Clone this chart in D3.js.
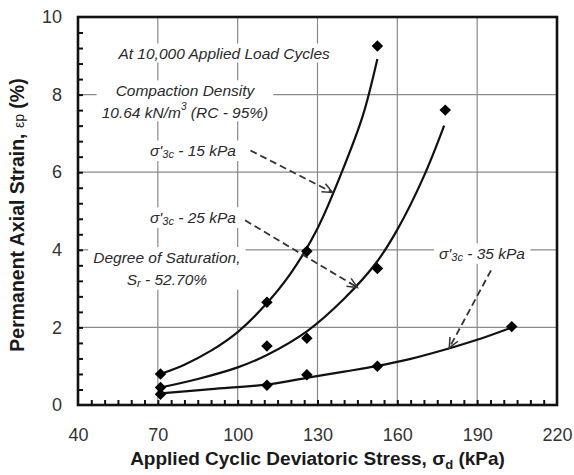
<!DOCTYPE html>
<html><head><meta charset="utf-8">
<script src="https://cdn.jsdelivr.net/npm/d3@7"></script>
<style>body{margin:0;background:#fff}svg{display:block}</style>
</head><body><svg id="c" width="574" height="475"></svg>
<script>
// ---- data ----
const xTicks = [40, 70, 100, 130, 160, 190, 220];
const yTicks = [0, 2, 4, 6, 8, 10];
const series15 = [[71, 0.80], [111, 2.65], [126, 3.96], [152.5, 9.25]];
const series25 = [[71, 0.45], [111, 1.52], [126, 1.72], [152.5, 3.52], [178, 7.60]];
const series35 = [[71, 0.28], [111, 0.51], [126, 0.78], [152.5, 1.00], [203, 2.02]];
const curve15 = [[71, 0.80], [80, 1.04], [90, 1.40], [100, 1.88], [110, 2.55], [120, 3.40], [130, 4.55], [140, 6.15], [147, 7.45], [152.5, 8.92]];
const curve25 = [[71, 0.45], [85, 0.67], [100, 0.97], [111, 1.29], [126, 1.90], [140, 2.74], [152, 3.66], [160, 4.52], [170, 5.90], [177.6, 7.20]];
const curve35 = [[71, 0.30], [90, 0.41], [111, 0.53], [126, 0.70], [140, 0.86], [152, 1.00], [165, 1.19], [180, 1.47], [190, 1.68], [203, 2.00]];
const arrows = [
  [[104.8, 6.56], [135.6, 5.48]],
  [[102.8, 4.76], [145.0, 3.03]],
  [[195.2, 3.47], [179.5, 1.47]]
];

const svg = d3.select("#c");
const x = d3.scaleLinear().domain([40, 220]).range([78, 557]);
const y = d3.scaleLinear().domain([0, 10]).range([405, 17]);
const FONT = "'Liberation Sans', Arial, sans-serif";

// grid
const grid = svg.append("g").attr("stroke", "#8a8a8a").attr("stroke-width", 1.2);
grid.selectAll("line.v").data(xTicks.slice(1, -1)).join("line")
  .attr("x1", d => x(d)).attr("x2", d => x(d)).attr("y1", y(0)).attr("y2", y(10));
grid.selectAll("line.h").data(yTicks.slice(1, -1)).join("line")
  .attr("y1", d => y(d)).attr("y2", d => y(d)).attr("x1", x(40)).attr("x2", x(220));

// minor ticks via axes
const xMinor = d3.range(45, 220, 5);
const yMinor = d3.range(0.4, 10, 0.4);
svg.append("g").attr("transform", `translate(0,${y(0)})`)
  .call(d3.axisTop(x).tickValues(xMinor).tickSize(5).tickFormat(""))
  .call(g => g.select(".domain").remove())
  .selectAll("line").attr("stroke", "#111").attr("stroke-width", 2);
svg.append("g").attr("transform", `translate(${x(40)},0)`)
  .call(d3.axisRight(y).tickValues(yMinor).tickSize(5).tickFormat(""))
  .call(g => g.select(".domain").remove())
  .selectAll("line").attr("stroke", "#111").attr("stroke-width", 2);

// tick labels
svg.append("g").attr("transform", `translate(0,${y(0)})`)
  .call(d3.axisBottom(x).tickValues(xTicks).tickSize(0).tickPadding(23))
  .call(g => g.select(".domain").remove())
  .selectAll("text").attr("font-family", FONT).attr("font-size", 18).attr("fill", "#333");
svg.append("g").attr("transform", `translate(${x(40)},0)`)
  .call(d3.axisLeft(y).tickValues(yTicks).tickSize(0).tickPadding(16))
  .call(g => g.select(".domain").remove())
  .selectAll("text").attr("font-family", FONT).attr("font-size", 18).attr("fill", "#333");

// annotation blocks
const blocks = [
  {cx: 94.9, cy: 9.07, lines: [[["At 10,000 Applied Load Cycles"]]]},
  {cx: 80.2, cy: 7.84, lines: [[["Compaction Density"]], [["10.64 kN/m"], ["3", "sup"], [" (RC - 95%)"]]]},
  {cx: 83.2, cy: 6.57, lines: [[["σ'"], ["3c", "sub"], ["  - 15 kPa"]]]},
  {cx: 83.2, cy: 4.85, lines: [[["σ'"], ["3c", "sub"], ["  - 25 kPa"]]]},
  {cx: 73.4, cy: 3.54, lines: [[["Degree of Saturation,"]], [["S"], ["r", "sub"], [" - 52.70%"]]]},
  {cx: 191.8, cy: 3.92, lines: [[["σ'"], ["3c", "sub"], ["  - 35 kPa"]]]}
];
const bgLayer = svg.append("g");
const curveLayer = svg.append("g");
const textLayer = svg.append("g");
const lh = 22;
blocks.forEach(b => {
  const g = textLayer.append("g");
  const n = b.lines.length;
  b.lines.forEach((ln, i) => {
    const t = g.append("text").attr("x", x(b.cx))
      .attr("y", y(b.cy) + (i - (n - 1) / 2) * lh)
      .attr("text-anchor", "middle").attr("dominant-baseline", "central")
      .attr("font-family", FONT).attr("font-size", 15.5).attr("font-style", "italic").attr("fill", "#2a2a2a");
    ln.forEach(([s, k]) => {
      const ts = t.append("tspan").text(s);
      if (k === "sup") ts.attr("font-size", 10).attr("baseline-shift", "6");
      if (k === "sub") ts.attr("font-size", 11).attr("baseline-shift", "-4");
    });
  });
  const bb = g.node().getBBox();
  bgLayer.append("rect").attr("x", bb.x - 5).attr("y", bb.y - 1).attr("width", bb.width + 10).attr("height", bb.height + 2).attr("fill", "#fff");
});

// curves
const line = d3.line().x(d => x(d[0])).y(d => y(d[1])).curve(d3.curveCatmullRom.alpha(0.5));
[curve15, curve25, curve35].forEach(c => {
  curveLayer.append("path").attr("d", line(c)).attr("fill", "none").attr("stroke", "#111").attr("stroke-width", 2.2);
});

// arrows
arrows.forEach(([a, b]) => {
  const x1 = x(a[0]), y1 = y(a[1]), x2 = x(b[0]), y2 = y(b[1]);
  curveLayer.append("line").attr("x1", x1).attr("y1", y1).attr("x2", x2).attr("y2", y2)
    .attr("stroke", "#333").attr("stroke-width", 1.8).attr("stroke-dasharray", "7,4");
  const ang = Math.atan2(y2 - y1, x2 - x1);
  const L = 11, w = 0.42;
  const p1 = [x2 - L * Math.cos(ang - w), y2 - L * Math.sin(ang - w)];
  const p2 = [x2 - L * Math.cos(ang + w), y2 - L * Math.sin(ang + w)];
  curveLayer.append("path").attr("d", `M${p1}L${x2},${y2}L${p2}`)
    .attr("fill", "none").attr("stroke", "#333").attr("stroke-width", 1.5);
});

// points
const sym = d3.symbol().type(d3.symbolSquare).size(66);
[series15, series25, series35].forEach(s => {
  curveLayer.selectAll(null).data(s).join("path")
    .attr("d", sym).attr("fill", "#000")
    .attr("transform", d => `translate(${x(d[0])},${y(d[1])}) rotate(45)`);
});

// frame
svg.append("rect").attr("x", x(40)).attr("y", y(10)).attr("width", x(220) - x(40)).attr("height", y(0) - y(10))
  .attr("fill", "none").attr("stroke", "#111").attr("stroke-width", 2.6);

// axis titles
const xt = svg.append("text").attr("x", (x(40) + x(220)) / 2).attr("y", 465).attr("text-anchor", "middle")
  .attr("font-family", FONT).attr("font-size", 19).attr("font-weight", "bold").attr("fill", "#1a1a1a");
xt.append("tspan").text("Applied Cyclic Deviatoric Stress, σ");
xt.append("tspan").text("d").attr("font-size", 13).attr("baseline-shift", "-4");
xt.append("tspan").text(" (kPa)");

const yt = svg.append("text").attr("transform", `translate(24,${(y(0) + y(10)) / 2 + 4}) rotate(-90)`)
  .attr("text-anchor", "middle")
  .attr("font-family", FONT).attr("font-size", 19.5).attr("font-weight", "bold").attr("fill", "#1a1a1a");
yt.append("tspan").text("Permanent Axial Strain, ");
yt.append("tspan").text("εp").attr("font-size", 14).attr("font-weight", "normal");
yt.append("tspan").text(" (%)");
</script></body></html>
